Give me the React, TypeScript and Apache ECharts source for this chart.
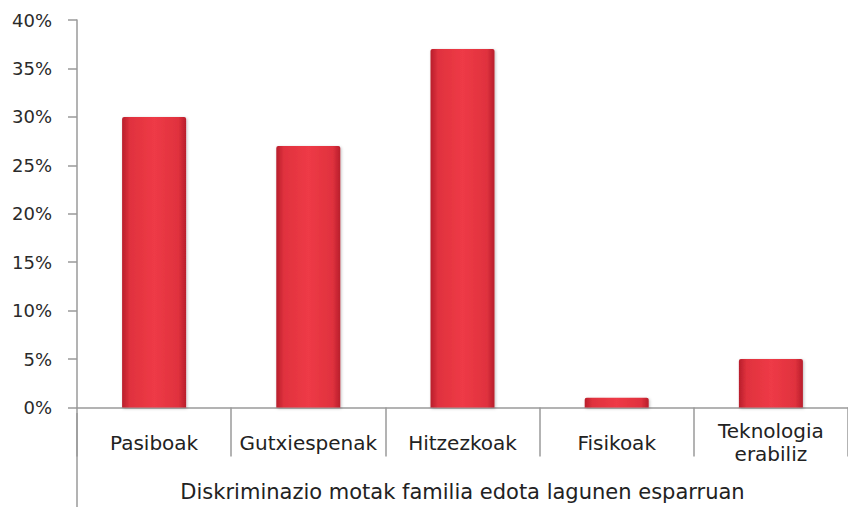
import React, { useEffect, useRef } from "react";
import * as echarts from "echarts";

const categories = ["Pasiboak", "Gutxiespenak", "Hitzezkoak", "Fisikoak", "Teknologia\nerabiliz"];
const values = [30, 27, 37, 1, 5];
const axisTitle = "Diskriminazio motak familia edota lagunen esparruan";

export default function App() {
  const ref = useRef<HTMLDivElement>(null);
  useEffect(() => {
    document.body.style.margin = "0";
    document.body.style.overflow = "hidden";
    document.documentElement.style.overflow = "hidden";
    const chart = echarts.init(ref.current!, null, { renderer: "svg" });
    const gray = "#9a9a9a";
    const font = "DejaVu Sans";
    chart.setOption({
      animation: false,
      grid: { left: 77, top: 20, bottom: 94, right: 0, containLabel: false },
      xAxis: {
        type: "category",
        data: categories,
        boundaryGap: true,
        axisLine: { show: true, lineStyle: { color: gray, width: 1.5 } },
        axisTick: { show: true, length: 49, alignWithLabel: false, lineStyle: { color: gray, width: 1.5 } },
        axisLabel: {
          margin: 35,
          color: "#222",
          fontFamily: font,
          fontSize: 20,
          lineHeight: 23,
          verticalAlign: "middle",
          interval: 0,
        },
        name: axisTitle,
        nameLocation: "middle",
        nameGap: 84,
        nameTextStyle: { color: "#222", fontFamily: font, fontSize: 21, lineHeight: 18, verticalAlign: "middle" },
      },
      yAxis: {
        type: "value",
        min: 0,
        max: 40,
        interval: 5,
        splitLine: { show: false },
        axisLine: { show: true, lineStyle: { color: gray, width: 1.5 } },
        axisTick: { show: true, length: 9, lineStyle: { color: gray, width: 1.5 } },
        axisLabel: {
          formatter: "{value}%",
          margin: 25,
          color: "#2a2a2a",
          fontFamily: font,
          fontSize: 18,
        },
      },
      graphic: [
        {
          type: "line",
          shape: { x1: 77, y1: 413, x2: 77, y2: 507 },
          style: { stroke: gray, lineWidth: 1.5 },
          silent: true,
        },
      ],
      series: [
        {
          type: "bar",
          data: values,
          barWidth: 64,
          itemStyle: {
            color: new echarts.graphic.LinearGradient(0, 0, 1, 0, [
              { offset: 0, color: "#b81e2b" },
              { offset: 0.12, color: "#e0323e" },
              { offset: 0.5, color: "#ee3a46" },
              { offset: 0.88, color: "#e0323e" },
              { offset: 1, color: "#b81e2b" },
            ]),
            borderRadius: [2, 2, 0, 0],
            shadowColor: "rgba(0,0,0,0.25)",
            shadowBlur: 3,
            shadowOffsetX: 1,
            shadowOffsetY: 1,
          },
        },
      ],
    });
    return () => chart.dispose();
  }, []);
  return <div ref={ref} style={{ width: 848, height: 507, overflow: "hidden" }} />;
}
